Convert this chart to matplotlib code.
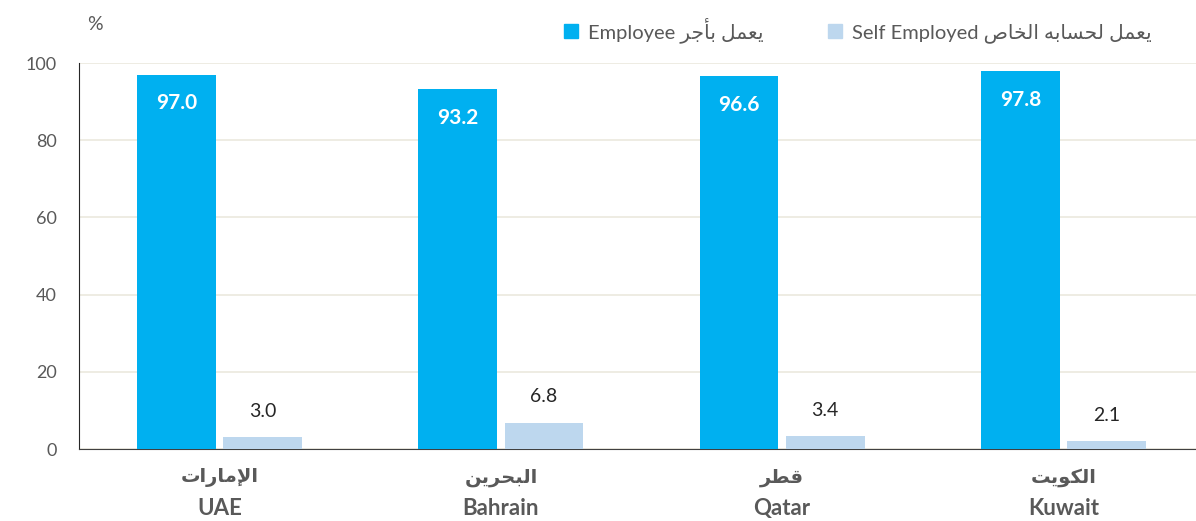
import numpy as np
import matplotlib.pyplot as plt
from matplotlib.patches import Patch

# =====================================
# DADOS
# =====================================

paises_ar = ["الإمارات", "البحرين", "قطر", "الكويت"]
paises_en = ["UAE", "Bahrain", "Qatar", "Kuwait"]
employee = [97.0, 93.2, 96.6, 97.8]
self_employed = [3.0, 6.8, 3.4, 2.1]
serie_ar = ["يعمل بأجر", "يعمل لحسابه الخاص"]
serie_en = ["Employee", "Self Employed"]
yticks = [0, 20, 40, 60, 80, 100]

# =====================================
# FORMAS ÁRABES (isolada, final, inicial, medial)
# =====================================

FORMAS = {
    'ا': (0xFE8D, 0xFE8E), 'أ': (0xFE83, 0xFE84), 'إ': (0xFE87, 0xFE88),
    'ر': (0xFEAD, 0xFEAE), 'و': (0xFEED, 0xFEEE),
    'ب': (0xFE8F, 0xFE90, 0xFE91, 0xFE92), 'ت': (0xFE95, 0xFE96, 0xFE97, 0xFE98),
    'ج': (0xFE9D, 0xFE9E, 0xFE9F, 0xFEA0), 'ح': (0xFEA1, 0xFEA2, 0xFEA3, 0xFEA4),
    'خ': (0xFEA5, 0xFEA6, 0xFEA7, 0xFEA8), 'س': (0xFEB1, 0xFEB2, 0xFEB3, 0xFEB4),
    'ص': (0xFEB9, 0xFEBA, 0xFEBB, 0xFEBC), 'ط': (0xFEC1, 0xFEC2, 0xFEC3, 0xFEC4),
    'ع': (0xFEC9, 0xFECA, 0xFECB, 0xFECC), 'ق': (0xFED5, 0xFED6, 0xFED7, 0xFED8),
    'ك': (0xFED9, 0xFEDA, 0xFEDB, 0xFEDC), 'ل': (0xFEDD, 0xFEDE, 0xFEDF, 0xFEE0),
    'م': (0xFEE1, 0xFEE2, 0xFEE3, 0xFEE4), 'ن': (0xFEE5, 0xFEE6, 0xFEE7, 0xFEE8),
    'ه': (0xFEE9, 0xFEEA, 0xFEEB, 0xFEEC), 'ي': (0xFEF1, 0xFEF2, 0xFEF3, 0xFEF4),
}
LAM_ALEF = {'ا': (0xFEFB, 0xFEFC), 'أ': (0xFEF7, 0xFEF8), 'إ': (0xFEF9, 0xFEFA)}


def liga_esq(c):
    return c in FORMAS and len(FORMAS[c]) == 4


def arabe(txt):
    # forma de apresentação + ordem visual
    out = []
    i = 0
    while i < len(txt):
        c = txt[i]
        ant = i > 0 and liga_esq(txt[i - 1])
        if c not in FORMAS:
            out.append(c)
            i += 1
            continue
        if c == 'ل' and i + 1 < len(txt) and txt[i + 1] in LAM_ALEF:
            out.append(chr(LAM_ALEF[txt[i + 1]][1 if ant else 0]))
            i += 2
            continue
        prox = liga_esq(c) and i + 1 < len(txt) and txt[i + 1] in FORMAS
        f = FORMAS[c]
        if ant and prox:
            out.append(chr(f[3]))
        elif ant:
            out.append(chr(f[1]))
        elif prox:
            out.append(chr(f[2]))
        else:
            out.append(chr(f[0]))
        i += 1
    return "".join(out)[::-1]


# =====================================
# FIGURA
# =====================================

fam = ['Lato', 'DejaVu Sans']
plt.rcParams['font.family'] = fam
cinza = '#595959'
c_emp = '#00B0F0'
c_self = '#BDD7EE'

fig = plt.figure(figsize=(11.96, 5.21), dpi=100)
ax = fig.add_axes([79 / 1196, 72 / 521, 1125 / 1196, 386 / 521])

x = np.arange(len(paises_en))
w = 0.28
off = 0.153

b1 = ax.bar(x - off, employee, w, color=c_emp, zorder=3)
b2 = ax.bar(x + off, self_employed, w, color=c_self, zorder=3)

for xi, v in zip(x, employee):
    ax.text(xi - off, v - 4.8, f"{v:.1f}", ha='center', va='top', color='white',
            fontsize=15, fontweight='bold', zorder=4)
for xi, v in zip(x, self_employed):
    ax.text(xi + off, v + 4.5, f"{v:.1f}", ha='center', va='bottom', color='#262626',
            fontsize=14, zorder=4)

ax.set_xlim(-0.5, len(x) - 0.5)
ax.set_ylim(0, 100)
ax.set_yticks(yticks)
ax.yaxis.grid(True, color='#EDEAE0', linewidth=1.3, zorder=0)
ax.tick_params(axis='y', length=0, pad=16, labelsize=13, labelcolor=cinza)
ax.tick_params(axis='x', length=0)
ax.set_xticks([])

for s in ['top', 'right']:
    ax.spines[s].set_visible(False)
ax.spines['left'].set_color('#262626')
ax.spines['bottom'].set_color('#404040')

# rótulos das categorias
for xi, ar, en in zip(x, paises_ar, paises_en):
    ax.text(xi, -5.0, arabe(ar), transform=ax.transData, ha='center', va='top',
            fontsize=14, fontweight='bold', color=cinza, clip_on=False)
    ax.text(xi, -12.8, en, transform=ax.transData, ha='center', va='top',
            fontsize=16, fontweight='bold', color=cinza, clip_on=False)

fig.text(95 / 1196, 1 - 25 / 521, "%", ha='center', va='center', fontsize=14, color=cinza)

handles = [Patch(color=c_emp), Patch(color=c_self)]
labels = [serie_en[0] + " " + arabe(serie_ar[0]), serie_en[1] + " " + arabe(serie_ar[1])]
fig.legend(handles, labels, loc='upper right', bbox_to_anchor=(1170 / 1196, 1 + 1 / 521),
           ncol=2, frameon=False, fontsize=14.5, labelcolor=cinza,
           handlelength=0.7, handleheight=0.7, handletextpad=0.5, columnspacing=3.2)

plt.savefig("out.png", dpi=100)
